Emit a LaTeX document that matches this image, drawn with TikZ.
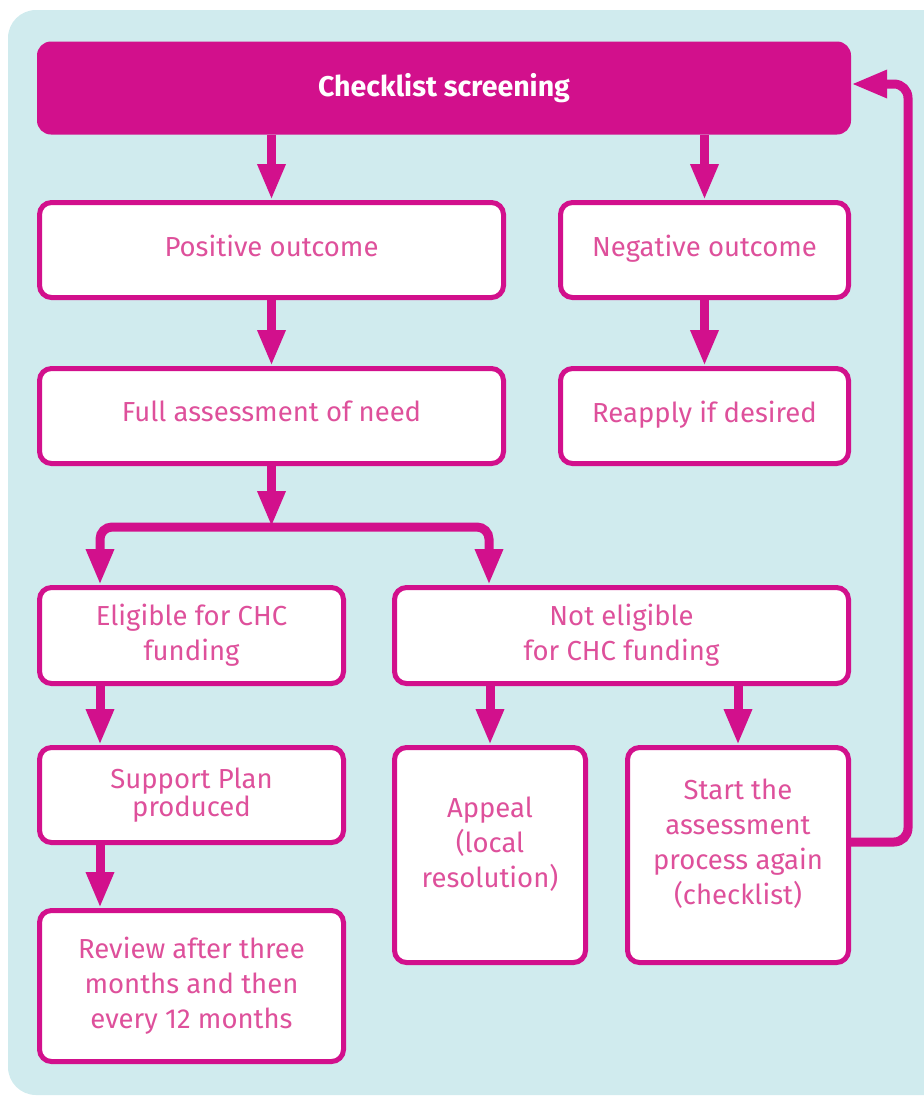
\documentclass[tikz,border=0pt]{standalone}
\usepackage{fontspec}
\setmainfont{Fira Sans}
\usetikzlibrary{arrows.meta}
\definecolor{mag}{RGB}{210,16,140}
\definecolor{txt}{RGB}{222,80,155}
\definecolor{panel}{RGB}{208,235,238}
\begin{document}
\begin{tikzpicture}[x=1pt,y=-1pt,
  box/.style={draw=mag, line width=5pt, fill=white, rounded corners=12pt, text=txt,
    align=center, font=\fontsize{27.5}{35}\selectfont, inner sep=0pt},
  arr/.style={draw=mag, line width=9pt, -{Triangle[width=26pt,length=36pt]}},
  dbl/.style={draw=mag, line width=9pt, {Triangle[width=26pt,length=36pt]}-{Triangle[width=26pt,length=36pt]}},
  ]
\useasboundingbox (0,0) rectangle (924,1096);
\begin{scope}
\clip (0,0) rectangle (924,1096);
\fill[panel, rounded corners=28pt] (8,10) rectangle (980,1095);
\end{scope}

\node[fill=mag, rounded corners=14pt, minimum width=814pt, minimum height=93pt, inner sep=0pt,
  text=white, font=\fontsize{28.5}{30}\selectfont\bfseries] (top) at (444,88) {Checklist screening};

\node[box, minimum width=464pt, minimum height=95pt, text depth=9pt] (pos) at (271.5,250) {Positive outcome};
\node[box, minimum width=288pt, minimum height=95pt, text depth=9pt] (neg) at (704.5,250) {Negative outcome};
\node[box, minimum width=464pt, minimum height=95pt, text depth=9pt] (full) at (271.5,416) {Full assessment of need};
\node[box, minimum width=288pt, minimum height=95pt, text depth=9pt] (reap) at (704.5,416) {Reapply if desired};
\node[box, minimum width=304pt, minimum height=96pt] (elig) at (191.5,635.5) {Eligible for CHC\\funding};
\node[box, minimum width=454pt, minimum height=96pt] (notel) at (621.5,635.5) {Not eligible\\for CHC funding};
\node[box, minimum width=304pt, minimum height=95pt] (sup) at (191.5,795) {Support Plan\\[-7pt]produced};
\node[box, minimum width=191pt, minimum height=215pt, text depth=26pt] (appeal) at (490,855) {Appeal\\(local\\resolution)};
\node[box, minimum width=221pt, minimum height=215pt, text depth=26pt] (start) at (738,855) {Start the\\assessment\\process again\\(checklist)};
\node[box, minimum width=304pt, minimum height=151pt] (review) at (191.5,986) {Review after three\\months and then\\every 12 months};

\coordinate (jn) at (271.5,527);
\coordinate (bl) at (100,527);
\coordinate (brr) at (489,527);
\coordinate (r1) at (908,842);
\coordinate (r2) at (908,84);

\draw[arr] (top.south -| pos.north) -- (pos.north);
\draw[arr] (top.south -| neg.north) -- (neg.north);
\draw[arr] (pos.south) -- (full.north);
\draw[arr] (neg.south) -- (reap.north);
\draw[arr] (full.south) -- (jn);
\draw[dbl, rounded corners=12pt] (elig.north -| bl) |- (jn) -| (notel.north -| brr);
\draw[arr] (elig.south -| bl) -- (sup.north -| bl);
\draw[arr] (sup.south -| bl) -- (review.north -| bl);
\draw[arr] (notel.south -| appeal.north) -- (appeal.north);
\draw[arr] (notel.south -| start.north) -- (start.north);
\draw[arr, rounded corners=14pt] (start.east |- r1) -- (r1) -- (r2) -- (top.east |- r2);
\end{tikzpicture}
\end{document}
